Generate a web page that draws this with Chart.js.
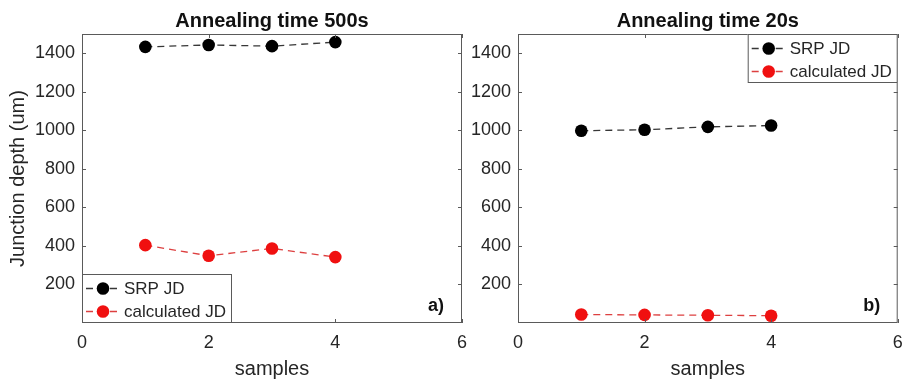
<!DOCTYPE html>
<html>
<head>
<meta charset="utf-8">
<script src="https://cdn.jsdelivr.net/npm/chart.js@4.4.1/dist/chart.umd.min.js"></script>
<style>
  body { margin: 0; background: #fff; }
  .wrap { position: relative; width: 904px; height: 381px; }
  canvas { position: absolute; top: 0; }
  #left { left: 0; }
  #right { left: 470px; }
</style>
</head>
<body>
<div class="wrap">
  <canvas id="left" width="470" height="381"></canvas>
  <canvas id="right" width="434" height="381"></canvas>
</div>
<script>
// values
const samples = [1, 2, 3, 4];
const srp500 = [1433, 1443, 1437, 1458];
const calc500 = [404, 349, 387, 342];
const srp20 = [998, 1003, 1018, 1025];
const calc20 = [44, 42, 40, 38];
const xTicks = [0, 2, 4, 6];
const yTicks = [200, 400, 600, 800, 1000, 1200, 1400];
const seriesNames = ['SRP JD', 'calculated JD'];

const FONT = '"Liberation Sans", Arial, Helvetica, sans-serif';
const TXT = '#262626';
const FRAME = '#5a5a5a';
const BLACK = '#000000';
const RED = '#f01010';
const lineCols = ['rgba(20,20,20,0.85)', 'rgba(215,30,30,0.85)'];
const dotCols = [BLACK, RED];

// box, inward ticks, title, panel tag and matlab style legend
const matlabPlugin = {
  id: 'matlab',
  afterDatasetsDraw(chart, args, opts) {
    const ctx = chart.ctx;
    const a = chart.chartArea;
    const xs = chart.scales.x, ys = chart.scales.y;
    ctx.save();
    ctx.strokeStyle = FRAME;
    ctx.lineWidth = 1;
    ctx.strokeRect(a.left + 0.5, a.top + 0.5, a.right - a.left - 1, a.bottom - a.top - 1);
    ctx.beginPath();
    ys.ticks.forEach(t => {
      const py = Math.round(ys.getPixelForValue(t.value)) + 0.5;
      ctx.moveTo(a.left, py); ctx.lineTo(a.left + 4, py);
      ctx.moveTo(a.right, py); ctx.lineTo(a.right - 4, py);
    });
    xs.ticks.forEach(t => {
      const px = Math.round(xs.getPixelForValue(t.value)) + 0.5;
      ctx.moveTo(px, a.top); ctx.lineTo(px, a.top + 4);
      ctx.moveTo(px, a.bottom); ctx.lineTo(px, a.bottom - 4);
    });
    ctx.stroke();

    // title
    ctx.fillStyle = '#111';
    ctx.font = 'bold 20px ' + FONT;
    ctx.textAlign = 'center';
    ctx.textBaseline = 'alphabetic';
    ctx.fillText(opts.title, (a.left + a.right) / 2, 27);

    // a) / b)
    ctx.font = 'bold 18px ' + FONT;
    ctx.fillText(opts.tag, a.right - 26, a.bottom - 12);

    // legend
    const w = 150, h = 49;
    const bx = opts.legendPos === 'sw' ? a.left : a.right - w;
    const by = opts.legendPos === 'sw' ? a.bottom - h : a.top;
    ctx.fillStyle = '#fff';
    ctx.fillRect(bx, by, w, h);
    ctx.strokeStyle = FRAME;
    ctx.strokeRect(bx + 0.5, by + 0.5, w - 1, h - 1);
    seriesNames.forEach((name, i) => {
      const ry = by + 14.5 + i * 23;
      ctx.strokeStyle = lineCols[i];
      ctx.lineWidth = 1.3;
      ctx.setLineDash([7, 5]);
      ctx.beginPath();
      ctx.moveTo(bx + 4, ry); ctx.lineTo(bx + 36, ry);
      ctx.stroke();
      ctx.setLineDash([]);
      ctx.fillStyle = dotCols[i];
      ctx.beginPath();
      ctx.arc(bx + 21, ry, 6.3, 0, Math.PI * 2);
      ctx.fill();
      ctx.fillStyle = TXT;
      ctx.font = '17px ' + FONT;
      ctx.textAlign = 'left';
      ctx.textBaseline = 'middle';
      ctx.fillText(name, bx + 42, ry + 1);
    });
    ctx.restore();
  }
};

function makePanel(id, srp, calc, title, tag, legendPos, showYTitle, yWidth, padRight) {
  const pts = vals => samples.map((s, i) => ({x: s, y: vals[i]}));
  return new Chart(document.getElementById(id), {
    type: 'line',
    data: {
      datasets: [
        {label: seriesNames[0], data: pts(srp), borderColor: lineCols[0], borderWidth: 1.3,
         borderDash: [7, 5], pointRadius: 6.3, pointBackgroundColor: BLACK, pointBorderWidth: 0},
        {label: seriesNames[1], data: pts(calc), borderColor: lineCols[1], borderWidth: 1.3,
         borderDash: [7, 5], pointRadius: 6.3, pointBackgroundColor: RED, pointBorderWidth: 0}
      ]
    },
    options: {
      responsive: false,
      animation: false,
      devicePixelRatio: 1,
      layout: {padding: {top: 34, right: padRight, left: 0, bottom: 0}},
      plugins: {
        legend: {display: false},
        tooltip: {enabled: false},
        matlab: {title: title, tag: tag, legendPos: legendPos}
      },
      scales: {
        x: {
          type: 'linear', min: 0, max: 6,
          afterBuildTicks: s => { s.ticks = xTicks.map(v => ({value: v})); },
          afterFit: s => { s.height = 58; s.paddingLeft = 0; s.paddingRight = 0; },
          grid: {display: false, drawTicks: false},
          border: {display: false},
          ticks: {padding: 9, color: TXT, font: {family: FONT, size: 18}, callback: v => String(v)},
          title: {display: true, text: 'samples', color: TXT, font: {family: FONT, size: 20},
                  padding: {top: 0, bottom: 0}}
        },
        y: {
          type: 'linear', min: 0, max: 1500,
          afterBuildTicks: s => { s.ticks = yTicks.map(v => ({value: v})); },
          afterFit: s => { s.width = yWidth; s.paddingTop = 0; s.paddingBottom = 0; },
          grid: {display: false, drawTicks: false},
          border: {display: false},
          ticks: {padding: 7, color: TXT, font: {family: FONT, size: 18}, callback: v => String(v)},
          title: {display: showYTitle, text: 'Junction depth (um)', color: TXT,
                  font: {family: FONT, size: 20}, padding: {top: 6, bottom: 0}}
        }
      }
    },
    plugins: [matlabPlugin]
  });
}

makePanel('left', srp500, calc500, 'Annealing time 500s', 'a)', 'sw', true, 82, 8);
makePanel('right', srp20, calc20, 'Annealing time 20s', 'b)', 'ne', false, 48, 6);
</script>
</body>
</html>
